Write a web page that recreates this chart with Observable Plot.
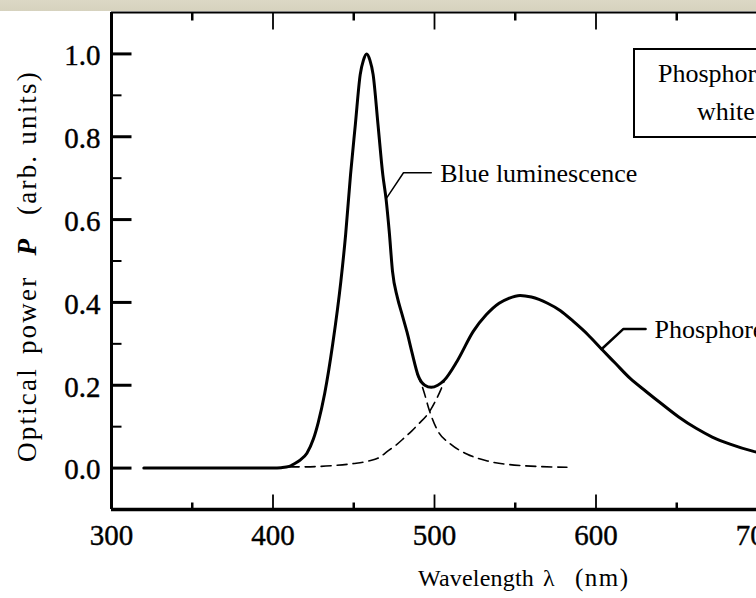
<!DOCTYPE html>
<html><head><meta charset="utf-8">
<script src="https://cdn.jsdelivr.net/npm/d3@7"></script>
<script src="https://cdn.jsdelivr.net/npm/@observablehq/plot@0.6"></script>
<style>
html,body{margin:0;padding:0;overflow:hidden;background:#fff;width:756px;height:598px;}
#wrap{position:relative;width:756px;height:598px;overflow:hidden;
  background:linear-gradient(to bottom,#dcd8c5 0,#d6d2be 11px,#fff 11px);}
#wrap svg{position:absolute;left:0;top:0;}
.ttl{position:absolute;font-family:"Liberation Serif",serif;color:#000;white-space:nowrap;line-height:1;}
#box{position:absolute;left:633px;top:48px;width:220px;height:86px;border:2px solid #000;background:#fff;}
#yt span{display:inline-block;}
</style></head><body><div id="wrap"></div>
<script>
// axes
const xDomain = [300, 720];
const yDomain = [-0.1, 1.1];
const xLabels = [300, 400, 500, 600, 700];
const xMajorTicks = [400, 500, 600, 700];
const xMinorTicks = [350, 450, 550, 650];
const yMajor = [0, 0.2, 0.4, 0.6, 0.8, 1.0];
const yMinor = [0.1, 0.3, 0.5, 0.7, 0.9];

// total emission spectrum (solid)
const totalLambda = [320, 340, 360, 380, 400, 405, 410, 413, 417, 421, 425, 428, 432, 437, 442, 445, 448, 451, 454, 456, 458, 460, 462, 465, 468, 470, 472, 474, 477, 480, 483, 486, 490, 494, 498, 502, 506, 514, 524, 532, 540, 546, 553, 560, 570, 578, 586, 595, 604, 612, 621, 631, 641, 651, 662, 672, 683, 697, 710, 720];
const totalPower  = [0, 0, 0, 0, 0, 0.001, 0.004, 0.01, 0.02, 0.036, 0.07, 0.11, 0.18, 0.30, 0.45, 0.565, 0.708, 0.83, 0.95, 0.985, 1.0, 0.985, 0.95, 0.83, 0.708, 0.65, 0.57, 0.475, 0.412, 0.37, 0.328, 0.28, 0.222, 0.2, 0.195, 0.2, 0.212, 0.258, 0.33, 0.37, 0.398, 0.41, 0.417, 0.413, 0.398, 0.38, 0.354, 0.322, 0.285, 0.253, 0.217, 0.185, 0.154, 0.124, 0.096, 0.075, 0.058, 0.041, 0.03, 0.024];

// blue luminescence component (dashed)
const blueLambda = [489, 493, 497, 502, 510, 520, 533, 554, 582];
const bluePower  = [0.23, 0.19, 0.137, 0.09, 0.058, 0.034, 0.017, 0.006, 0.002];

// phosphor component (dashed)
const phosLambda = [410, 420, 437, 450, 459, 466, 471, 476, 481, 486, 490, 497, 501, 504, 506];
const phosPower  = [0.003, 0.003, 0.006, 0.011, 0.017, 0.026, 0.041, 0.055, 0.072, 0.09, 0.106, 0.137, 0.165, 0.19, 0.21];

// annotations
const blueLabel = "Blue luminescence";
const blueLeaderLambda = [470, 480.8, 498];
const blueLeaderPower  = [0.65, 0.713, 0.713];
const phosLabel = "Phosphorescence";
const phosLeaderLambda = [603.4, 617, 630.7];
const phosLeaderPower  = [0.287, 0.336, 0.336];

const zip = (xs, ys) => xs.map((x, i) => ({x, y: ys[i]}));
const total = zip(totalLambda, totalPower);
const blue = zip(blueLambda, bluePower);
const phos = zip(phosLambda, phosPower);
const blueLeader = zip(blueLeaderLambda, blueLeaderPower);
const phosLeader = zip(phosLeaderLambda, phosLeaderPower);

const F = "Liberation Serif, Times New Roman, serif";
const W = 800, H = 598;
const pxPerNm = 1.615;
const mL = 111, mT = 12, mB = 89;
const frameW = (xDomain[1] - xDomain[0]) * pxPerNm;
const mR = W - (mL + frameW);
const frameH = H - mT - mB;
const pxPerUnit = frameH / (yDomain[1] - yDomain[0]);

// inward tick links (pixel lengths converted to data units), major and minor together
const leftTicks = [
  ...yMajor.map(v => ({v, len: 20, w: 3})),
  ...yMinor.map(v => ({v, len: 10, w: 2}))];
const bottomTicks = [
  ...xMajorTicks.map(v => ({v, len: 15, w: 1.8})),
  ...xMinorTicks.map(v => ({v, len: 7, w: 2.5}))];
const topTicks = [
  ...xMajorTicks.map(v => ({v, len: 17, w: 1.8})),
  ...xMinorTicks.map(v => ({v, len: 8, w: 2.5}))];

const chart = Plot.plot({
  width: W, height: H,
  marginLeft: mL, marginRight: mR, marginTop: mT, marginBottom: mB,
  style: {background: "transparent", maxWidth: "none", overflow: "visible"},
  x: {domain: xDomain, axis: null},
  y: {domain: yDomain, axis: null},
  marks: [
    // frame
    Plot.ruleY([yDomain[0]], {strokeWidth: 3.5}),
    Plot.ruleY([yDomain[1]], {strokeWidth: 2}),
    Plot.ruleX([xDomain[0]], {strokeWidth: 3}),
    Plot.ruleX([xDomain[1]], {strokeWidth: 2}),
    // tick labels
    Plot.text(yMajor, {x: xDomain[0], y: d => d, text: d => d.toFixed(1), textAnchor: "end", dx: -11, dy: 2,
      fontSize: 29, fontFamily: F, stroke: "black", strokeWidth: 0.4, fill: "black"}),
    Plot.text(xLabels, {x: d => d, y: yDomain[0], text: d => String(d), dy: 26,
      fontSize: 29, fontFamily: F, stroke: "black", strokeWidth: 0.4, fill: "black"}),
    // curves
    Plot.line(phos, {x: "x", y: "y", stroke: "black", strokeWidth: 1.6, strokeDasharray: "10,6", curve: "monotone-x"}),
    Plot.line(blue, {x: "x", y: "y", stroke: "black", strokeWidth: 1.6, strokeDasharray: "10,6", curve: "monotone-x"}),
    Plot.line(total, {x: "x", y: "y", stroke: "black", strokeWidth: 3, curve: "monotone-x"}),
    // leaders and labels
    Plot.line(blueLeader, {x: "x", y: "y", stroke: "black", strokeWidth: 1.5}),
    Plot.line(phosLeader, {x: "x", y: "y", stroke: "black", strokeWidth: 2.5}),
    Plot.text([blueLabel], {x: blueLeaderLambda[2], y: blueLeaderPower[2], text: d => d, textAnchor: "start", dx: 9, dy: 1,
      fontSize: 26, fontFamily: F, fill: "black"}),
    Plot.text([phosLabel], {x: phosLeaderLambda[2], y: phosLeaderPower[2], text: d => d, textAnchor: "start", dx: 9, dy: 1,
      fontSize: 26, fontFamily: F, fill: "black"}),
    // ticks, drawn last
    Plot.link(leftTicks, {x1: xDomain[0], x2: d => xDomain[0] + d.len / pxPerNm, y1: "v", y2: "v",
      stroke: "black", strokeWidth: "w"}),
    Plot.link(bottomTicks, {x1: "v", x2: "v", y1: yDomain[0], y2: d => yDomain[0] + d.len / pxPerUnit,
      stroke: "black", strokeWidth: "w"}),
    Plot.link(topTicks, {x1: "v", x2: "v", y1: yDomain[1], y2: d => yDomain[1] - d.len / pxPerUnit,
      stroke: "black", strokeWidth: "w"})
  ]
});
const wrap = document.getElementById("wrap");
wrap.appendChild(chart);

function addText(html, left, top, size, extra) {
  const el = document.createElement("div");
  el.className = "ttl";
  el.style.left = left + "px"; el.style.top = top + "px"; el.style.fontSize = size + "px";
  if (extra) Object.assign(el.style, extra);
  el.innerHTML = html;
  wrap.appendChild(el);
  return el;
}

// legend box
const box = document.createElement("div");
box.id = "box";
wrap.appendChild(box);
addText("Phosphor-based", 658, 61, 26);
addText("white LED", 697, 99, 26);

// x axis title
addText("Wavelength", 418, 566, 24, {letterSpacing: "0.2px"});
addText("λ", 543, 566, 24);
addText("(nm)", 575, 565, 25, {letterSpacing: "1.5px"});

// y axis title
const yt = addText(
  '<span style="margin-right:13px">Optical</span>' +
  '<span style="margin-right:20px">power</span>' +
  '<span style="margin-right:22px"><b><i>P</i></b></span>' +
  '<span>(arb. units)</span>', 27, 266, 27,
  {transform: "translate(-50%,-50%) rotate(-90deg)", letterSpacing: "2.2px"});
yt.id = "yt";
</script>
</body></html>
